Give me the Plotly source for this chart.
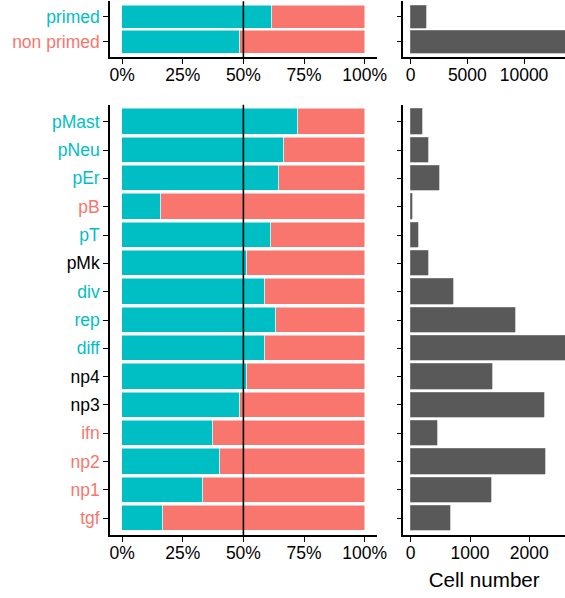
import plotly.graph_objects as go

# Cell groups (top to bottom) and share of primed cells in each
groups = ["primed", "non primed"]
group_primed_frac = [0.617, 0.485]
group_counts = [1410, 13600]

clusters = ["pMast", "pNeu", "pEr", "pB", "pT", "pMk", "div", "rep", "diff",
            "np4", "np3", "ifn", "np2", "np1", "tgf"]
cluster_primed_frac = [0.724, 0.666, 0.647, 0.161, 0.615, 0.514, 0.589, 0.636,
                       0.589, 0.516, 0.485, 0.375, 0.405, 0.335, 0.170]
cluster_counts = [197, 298, 483, 34, 124, 303, 719, 1759, 2620,
                  1383, 2254, 450, 2277, 1360, 669]

pct_ticks = [0, 0.25, 0.5, 0.75, 1.0]
pct_labels = ["0%", "25%", "50%", "75%", "100%"]
group_count_ticks = [0, 5000, 10000]
cluster_count_ticks = [0, 1000, 2000]

TEAL = "#00BFC4"
SALMON = "#F8766D"
GREY = "#595959"
FONT = "Liberation Sans"
W, H = 565, 598


def label_color(frac):
    if frac > 0.55:
        return TEAL
    if frac < 0.45:
        return SALMON
    return "black"


def colored(names, colors):
    return [f'<span style="color:{c}">{n}</span>' for n, c in zip(names, colors)]


fig = go.Figure()

# stacked proportion bars
for names, frac, xa, ya in [(groups, group_primed_frac, "x", "y"),
                            (clusters, cluster_primed_frac, "x3", "y3")]:
    fig.add_trace(go.Bar(y=names, x=frac, orientation="h", marker_color=TEAL,
                         marker_line=dict(color="white", width=0.5), width=0.9,
                         xaxis=xa, yaxis=ya, showlegend=False))
    fig.add_trace(go.Bar(y=names, x=[1 - f for f in frac], orientation="h",
                         marker_color=SALMON,
                         marker_line=dict(color="white", width=0.5), width=0.9,
                         xaxis=xa, yaxis=ya, showlegend=False))

# cell number bars
for names, counts, xa, ya in [(groups, group_counts, "x2", "y2"),
                              (clusters, cluster_counts, "x4", "y4")]:
    fig.add_trace(go.Bar(y=names, x=counts, orientation="h", marker_color=GREY,
                         marker_line=dict(color="#9a9a9a", width=0.5), width=0.9,
                         xaxis=xa, yaxis=ya, showlegend=False))

left_dom = [110 / W, 376.8 / W]
right_dom = [403.3 / W, 1.0]
top_dom = [(H - 57.0) / H, (H - 1.3) / H]
bot_dom = [(H - 535.3) / H, (H - 104.7) / H]

axis_common = dict(showline=True, linecolor="black", linewidth=1.6,
                   ticks="outside", ticklen=5, tickwidth=1.4, tickcolor="black",
                   showgrid=False, zeroline=False, automargin=False,
                   tickfont=dict(family=FONT, size=17.5, color="black"))
x_common = dict(axis_common, ticklabelstandoff=-4)

group_colors = [TEAL, SALMON]
cluster_colors = [label_color(f) for f in cluster_primed_frac]

fig.update_layout(
    width=W, height=H, autosize=False,
    margin=dict(l=0, r=0, t=0, b=0, pad=0, autoexpand=False),
    paper_bgcolor="white", plot_bgcolor="white",
    barmode="stack", bargap=0,
    font=dict(family=FONT, size=17.5, color="black"),
    xaxis=dict(domain=left_dom, anchor="y", range=[-0.05, 1.05],
               tickvals=pct_ticks, ticktext=pct_labels, **x_common),
    yaxis=dict(domain=top_dom, anchor="x", type="category",
               categoryorder="array", categoryarray=groups[::-1],
               range=[-0.6, len(groups) - 0.4],
               tickvals=groups, ticktext=colored(groups, group_colors),
               **axis_common),
    xaxis2=dict(domain=right_dom, anchor="y2", range=[-653, 13618],
                tickvals=group_count_ticks,
                ticktext=[str(v) for v in group_count_ticks], **x_common),
    yaxis2=dict(domain=top_dom, anchor="x2", type="category",
                categoryorder="array", categoryarray=groups[::-1],
                range=[-0.6, len(groups) - 0.4], showticklabels=False,
                **axis_common),
    xaxis3=dict(domain=left_dom, anchor="y3", range=[-0.05, 1.05],
                tickvals=pct_ticks, ticktext=pct_labels, **x_common),
    yaxis3=dict(domain=bot_dom, anchor="x3", type="category",
                categoryorder="array", categoryarray=clusters[::-1],
                range=[-0.6, len(clusters) - 0.4],
                tickvals=clusters, ticktext=colored(clusters, cluster_colors),
                **axis_common),
    xaxis4=dict(domain=right_dom, anchor="y4", range=[-125, 2602],
                tickvals=cluster_count_ticks,
                ticktext=[str(v) for v in cluster_count_ticks],
                title=dict(text="Cell number",
                           font=dict(family=FONT, size=20.6, color="black"),
                           standoff=10),
                **x_common),
    yaxis4=dict(domain=bot_dom, anchor="x4", type="category",
                categoryorder="array", categoryarray=clusters[::-1],
                range=[-0.6, len(clusters) - 0.4], showticklabels=False,
                **axis_common),
)

# 50% reference lines on the proportion panels
for xa, ya in [("x", "y"), ("x3", "y3")]:
    fig.add_shape(type="line", xref=xa, yref=f"{ya} domain",
                  x0=0.5, x1=0.5, y0=0, y1=1,
                  line=dict(color="black", width=1.6))

fig.write_html("out.html", config={"responsive": False})
